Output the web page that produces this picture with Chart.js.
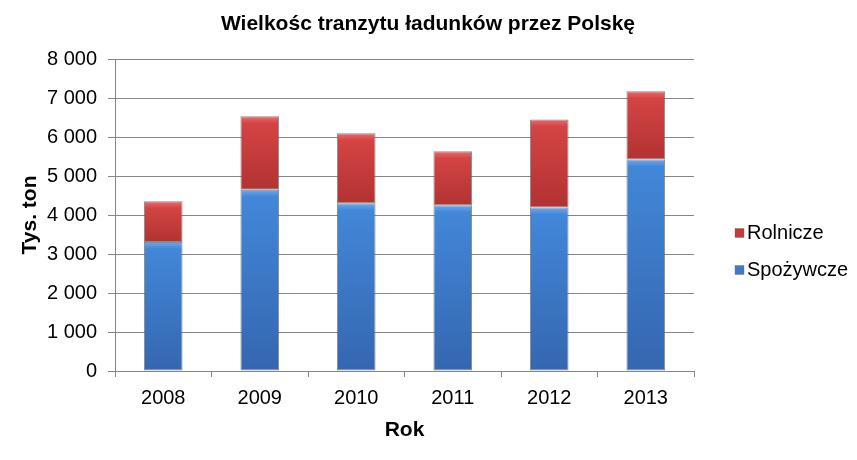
<!DOCTYPE html>
<html>
<head>
<meta charset="utf-8">
<script src="https://cdn.jsdelivr.net/npm/chart.js@4.4.1/dist/chart.umd.min.js"></script>
<style>
  html, body { margin: 0; padding: 0; background: #fff; }
  #wrap { width: 857px; height: 460px; position: relative; }
</style>
</head>
<body>
<div id="wrap"><canvas id="c" width="857" height="460"></canvas></div>
<script>
const categories = ['2008', '2009', '2010', '2011', '2012', '2013'];
const spozywcze = [3310, 4650, 4300, 4250, 4190, 5420];
const rolnicze = [1040, 1880, 1795, 1385, 2260, 1750];
const yTicks = [0, 1000, 2000, 3000, 4000, 5000, 6000, 7000, 8000];
const titleText = 'Wielkośc tranzytu ładunków przez Polskę';
const yTitle = 'Tys. ton';
const xTitle = 'Rok';
const seriesNames = ['Spożywcze', 'Rolnicze'];

const FONT = "'Liberation Sans', Arial, sans-serif";

function barGradient(ctx, lightTop, mainTop, mainBottom, getRange) {
  const chart = ctx.chart;
  if (!chart.chartArea || ctx.dataIndex === undefined) return mainTop;
  const y = chart.scales.y;
  const [lo, hi] = getRange(ctx.dataIndex);
  const top = y.getPixelForValue(hi);
  const bottom = y.getPixelForValue(lo);
  const h = Math.max(bottom - top, 1);
  const g = chart.ctx.createLinearGradient(0, top, 0, bottom);
  const f = Math.min(7 / h, 0.4);
  g.addColorStop(0, lightTop);
  g.addColorStop(f, mainTop);
  g.addColorStop(1, mainBottom);
  return g;
}

const titlePlugin = {
  id: 'customTitle',
  afterDraw(chart) {
    const c = chart.ctx;
    c.save();
    c.fillStyle = '#000';
    c.font = 'bold 21px ' + FONT;
    c.textAlign = 'center';
    c.textBaseline = 'middle';
    c.fillText(titleText, 428, 24);
    c.restore();
  }
};

const legendPlugin = {
  id: 'customLegend',
  afterDraw(chart) {
    const c = chart.ctx;
    c.save();
    const items = [
      { label: seriesNames[1], color: '#C83A3A', ys: 233 },
      { label: seriesNames[0], color: '#3F7BCC', ys: 270 }
    ];
    items.forEach(it => {
      c.fillStyle = it.color;
      c.fillRect(735, it.ys - 4.5, 9, 9);
      c.strokeStyle = 'rgba(90,90,90,0.6)';
      c.lineWidth = 0.5;
      c.strokeRect(735, it.ys - 4.5, 9, 9);
      c.fillStyle = '#000';
      c.font = '20px ' + FONT;
      c.textAlign = 'left';
      c.textBaseline = 'middle';
      c.fillText(it.label, 747, it.ys);
    });
    c.restore();
  }
};

new Chart(document.getElementById('c'), {
  type: 'bar',
  data: {
    labels: categories,
    datasets: [
      {
        label: seriesNames[0],
        data: spozywcze,
        backgroundColor: ctx => barGradient(ctx, '#6AAAF0', '#4287D8', '#3566B0', i => [0, spozywcze[i]]),
        borderColor: 'rgba(100,100,100,0.75)',
        borderWidth: 1,
        borderSkipped: false,
        barPercentage: 0.4,
        categoryPercentage: 1.0
      },
      {
        label: seriesNames[1],
        data: rolnicze,
        backgroundColor: ctx => barGradient(ctx, '#EE6A6A', '#D44444', '#B23232', i => [spozywcze[i], spozywcze[i] + rolnicze[i]]),
        borderColor: 'rgba(100,100,100,0.75)',
        borderWidth: 1,
        borderSkipped: false,
        barPercentage: 0.4,
        categoryPercentage: 1.0
      }
    ]
  },
  options: {
    responsive: false,
    animation: false,
    devicePixelRatio: 1,
    layout: { padding: { left: 14, right: 163, top: 59, bottom: 13 } },
    plugins: {
      legend: { display: false },
      title: { display: false },
      tooltip: { enabled: false }
    },
    scales: {
      x: {
        stacked: true,
        offset: true,
        grid: {
          offset: true,
          drawOnChartArea: false,
          drawTicks: true,
          tickLength: 6,
          color: '#868686'
        },
        border: { color: '#868686', width: 1 },
        ticks: {
          color: '#000',
          font: { family: FONT, size: 20 },
          padding: 9,
          maxRotation: 0
        },
        title: {
          display: true,
          text: xTitle,
          color: '#000',
          font: { family: FONT, size: 21, weight: 'bold' },
          padding: { top: 4, bottom: 4 }
        },
        afterFit: s => { s.height = 76; }
      },
      y: {
        stacked: true,
        min: 0,
        max: 8000,
        afterBuildTicks: s => { s.ticks = yTicks.map(v => ({ value: v })); },
        grid: {
          color: '#868686',
          drawTicks: true,
          tickLength: 7,
          lineWidth: 1
        },
        border: { color: '#868686', width: 1 },
        ticks: {
          color: '#000',
          font: { family: FONT, size: 20 },
          padding: 11,
          callback: v => String(v).replace(/\B(?=(\d{3})+(?!\d))/g, ' ')
        },
        title: {
          display: true,
          text: yTitle,
          color: '#000',
          font: { family: FONT, size: 21, weight: 'bold' },
          padding: { top: 4, bottom: 4 }
        },
        afterFit: s => { s.width = 101; }
      }
    }
  },
  plugins: [titlePlugin, legendPlugin]
});
</script>
</body>
</html>
